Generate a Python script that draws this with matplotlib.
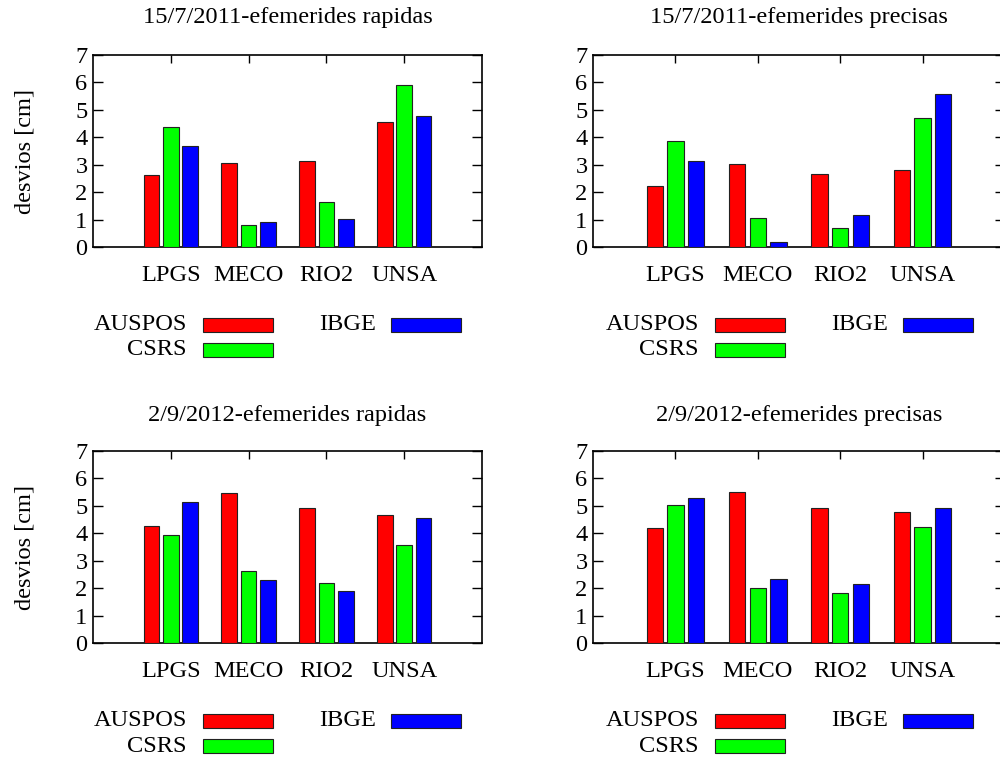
import matplotlib
matplotlib.use("Agg")
import matplotlib.pyplot as plt
from matplotlib.patches import Rectangle
import numpy as np

plt.rcParams['font.family'] = ['Liberation Serif', 'DejaVu Serif']

stations = ["LPGS", "MECO", "RIO2", "UNSA"]
series_names = ["AUSPOS", "CSRS", "IBGE"]
colors = ["#ff0000", "#00ff00", "#0000ff"]

titles = ["15/7/2011-efemerides rapidas", "15/7/2011-efemerides precisas",
          "2/9/2012-efemerides rapidas", "2/9/2012-efemerides precisas"]

# values per panel: AUSPOS, CSRS, IBGE for LPGS, MECO, RIO2, UNSA
p1_auspos = [2.61, 3.08, 3.14, 4.56]
p1_csrs = [4.38, 0.79, 1.63, 5.89]
p1_ibge = [3.69, 0.91, 1.03, 4.78]

p2_auspos = [2.22, 3.01, 2.65, 2.80]
p2_csrs = [3.88, 1.07, 0.68, 4.72]
p2_ibge = [3.14, 0.19, 1.15, 5.57]

p3_auspos = [4.26, 5.48, 4.94, 4.66]
p3_csrs = [3.92, 2.61, 2.20, 3.57]
p3_ibge = [5.15, 2.29, 1.91, 4.55]

p4_auspos = [4.19, 5.50, 4.94, 4.78]
p4_csrs = [5.02, 2.01, 1.84, 4.24]
p4_ibge = [5.29, 2.32, 2.14, 4.93]

panels = [
    [p1_auspos, p1_csrs, p1_ibge],
    [p2_auspos, p2_csrs, p2_ibge],
    [p3_auspos, p3_csrs, p3_ibge],
    [p4_auspos, p4_csrs, p4_ibge],
]

W, H = 1000, 757
fig = plt.figure(figsize=(W / 100, H / 100), dpi=100)

FS = 17.6

# axes rectangles in pixels: left, right, top, bottom
rects_px = [
    (93, 482, 55, 247),
    (593, 1005, 55, 247),
    (93, 482, 451, 643),
    (593, 1005, 451, 643),
]
title_y_px = [17, 17, 415, 415]

x = np.arange(1, len(stations) + 1)
bw = 0.2
offsets = [-0.25, 0.0, 0.25]

for i, (l, r, t, b) in enumerate(rects_px):
    ax = fig.add_axes([l / W, 1 - b / H, (r - l) / W, (b - t) / H])
    for s in range(3):
        ax.bar(x + offsets[s], panels[i][s], width=bw, color=colors[s],
               edgecolor="#222222", linewidth=0.8, zorder=3)
    ax.set_xlim(0, 5)
    ax.set_ylim(0, 7)
    ax.set_yticks(range(0, 8))
    ax.set_xticks(x)
    ax.set_xticklabels(stations)
    ax.tick_params(axis='y', direction='in', left=True, right=True,
                   length=7, width=1, labelsize=FS, pad=4)
    ax.tick_params(axis='x', direction='in', top=True, bottom=False,
                   length=6, width=1, labelsize=FS, pad=13)
    for sp in ax.spines.values():
        sp.set_linewidth(1.2)
    if i % 2 == 0:
        ax.set_ylabel("desvios [cm]", fontsize=FS)
        ax.yaxis.set_label_coords((36 - l) / (r - l), 0.5)
    fig.text(((l + r) / 2) / W, 1 - title_y_px[i] / H, titles[i],
             ha='center', va='center', fontsize=FS)

    # legend (manual, gnuplot-style key)
    dx = 0 if i % 2 == 0 else 512
    row1 = b + 78
    row2 = b + 103
    entries = [
        (series_names[0], 187 + dx, 203 + dx, row1, colors[0]),
        (series_names[1], 187 + dx, 203 + dx, row2, colors[1]),
        (series_names[2], 376 + dx, 391 + dx, row1, colors[2]),
    ]
    for name, tx, sx, ry, col in entries:
        fig.text(tx / W, 1 - ry / H, name, ha='right', va='center',
                 fontsize=FS)
        rect = Rectangle((sx / W, 1 - (ry + 7) / H), 70 / W, 14 / H,
                         transform=fig.transFigure, facecolor=col,
                         edgecolor="#222222", linewidth=0.8)
        fig.add_artist(rect)

fig.savefig("out.png", dpi=100)
